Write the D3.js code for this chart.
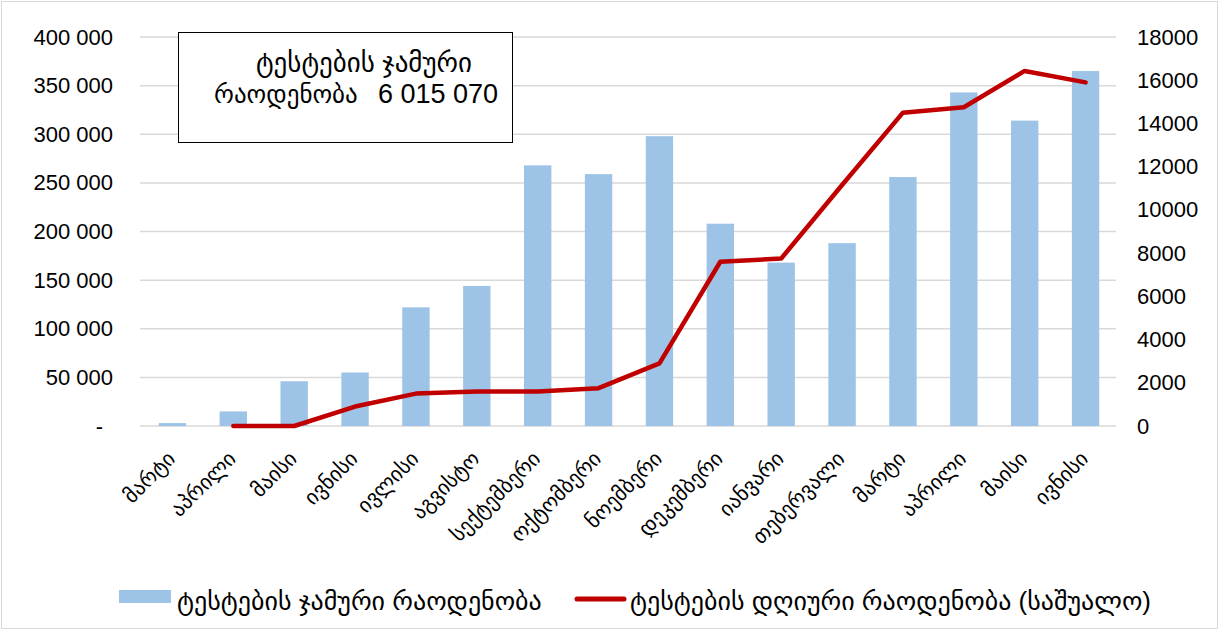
<!DOCTYPE html>
<html><head><meta charset="utf-8">
<script src="https://cdn.jsdelivr.net/npm/d3@7"></script>
<style>
body{margin:0;background:#fff;}
text{font-family:"Liberation Sans",Arial,"DejaVu Sans",sans-serif;fill:#000;}
</style></head>
<body><svg id="c" width="1219" height="630"></svg>
<script>
const categories = ["მარტი","აპრილი","მაისი","ივნისი","ივლისი","აგვისტო","სექტემბერი","ოქტომბერი","ნოემბერი","დეკემბერი","იანვარი","თებერვალი","მარტი","აპრილი","მაისი","ივნისი"];
const totalTests = [3000,15000,46000,55000,122000,144000,268000,259000,298000,208000,168000,188000,256000,343000,314000,365000];
const dailyTests = [null,0,0,900,1500,1600,1600,1750,2900,7600,7750,11150,14500,14750,16430,15900];
const leftTicks = [0,50000,100000,150000,200000,250000,300000,350000,400000];
const rightTicks = [0,2000,4000,6000,8000,10000,12000,14000,16000,18000];
const seriesNames = ["ტესტების ჯამური რაოდენობა","ტესტების დღიური რაოდენობა (საშუალო)"];
const boxLines = ["ტესტების ჯამური","რაოდენობა","6 015 070"];

const svg = d3.select("#c");
svg.append("rect").attr("x",1.5).attr("y",1.5).attr("width",1216).attr("height",627).attr("fill","#fff").attr("stroke","#d9d9d9");

const L=142, R=1116, T=37, B=426;
const x = d3.scaleBand().domain(d3.range(categories.length)).range([L,R]).paddingInner(0.55).paddingOuter(0.275);
const yL = d3.scaleLinear().domain([0,400000]).range([B,T]);
const yR = d3.scaleLinear().domain([0,18000]).range([B,T]);

// grid
svg.append("g").selectAll("line").data(leftTicks).join("line")
  .attr("x1",L-2).attr("x2",R).attr("y1",d=>yL(d)).attr("y2",d=>yL(d))
  .attr("stroke","#d9d9d9").attr("stroke-width",1.5);

const numFont = "'Liberation Sans',Arial,sans-serif";
// left axis
const fmt = d => d===0 ? "-" : d3.format(",")(d).replace(/,/g," ");
const ax = svg.append("g").attr("transform",`translate(${113},0)`)
  .call(d3.axisLeft(yL).tickValues(leftTicks).tickFormat(fmt).tickSize(0).tickPadding(0));
ax.select(".domain").remove();
ax.selectAll("text").attr("font-size",22).style("font-family",numFont).attr("fill","#000");
ax.selectAll("text").filter(d=>d===0).attr("dx",-10);

const ar = svg.append("g").attr("transform",`translate(${1137},0)`)
  .call(d3.axisRight(yR).tickValues(rightTicks).tickFormat(d3.format("d")).tickSize(0).tickPadding(0));
ar.select(".domain").remove();
ar.selectAll("text").attr("font-size",22).style("font-family",numFont).attr("fill","#000");

// bars
svg.append("g").selectAll("rect").data(totalTests).join("rect")
  .attr("x",(d,i)=>x(i)).attr("width",x.bandwidth())
  .attr("y",d=>yL(d)).attr("height",d=>B-yL(d))
  .attr("fill","#9dc3e6");

// line
const line = d3.line().defined(d=>d!==null)
  .x((d,i)=>x(i)+x.bandwidth()/2).y(d=>yR(d));
svg.append("path").datum(dailyTests).attr("d",line)
  .attr("fill","none").attr("stroke","#c00000").attr("stroke-width",4.5).attr("stroke-linejoin","round").attr("stroke-linecap","round");

// x labels
svg.append("g").selectAll("text").data(categories).join("text")
  .attr("transform",(d,i)=>`translate(${x(i)+x.bandwidth()/2+4},${460}) rotate(-45)`)
  .attr("text-anchor","end").attr("font-size",21).text(d=>d);

// box
svg.append("rect").attr("x",178.5).attr("y",32.5).attr("width",334).attr("height",110)
  .attr("fill","#fff").attr("stroke","#000").attr("stroke-width",1);
svg.append("text").attr("x",364).attr("y",72).attr("text-anchor","middle").attr("font-size",27).text(boxLines[0]);
svg.append("text").attr("x",214).attr("y",103).attr("font-size",25).text(boxLines[1]);
svg.append("text").attr("x",378).attr("y",103).attr("font-size",27).style("font-family",numFont).text(boxLines[2]);

// legend
const lg = svg.append("g");
lg.append("rect").attr("x",119).attr("y",590).attr("width",52).attr("height",13).attr("fill","#9dc3e6");
lg.append("text").attr("x",177).attr("y",610).attr("font-size",26).text(seriesNames[0]);
lg.append("line").attr("x1",577).attr("x2",624).attr("y1",599).attr("y2",599).attr("stroke","#c00000").attr("stroke-width",5).attr("stroke-linecap","round");
lg.append("text").attr("x",630).attr("y",610).attr("font-size",26).text(seriesNames[1]);
</script></body></html>
